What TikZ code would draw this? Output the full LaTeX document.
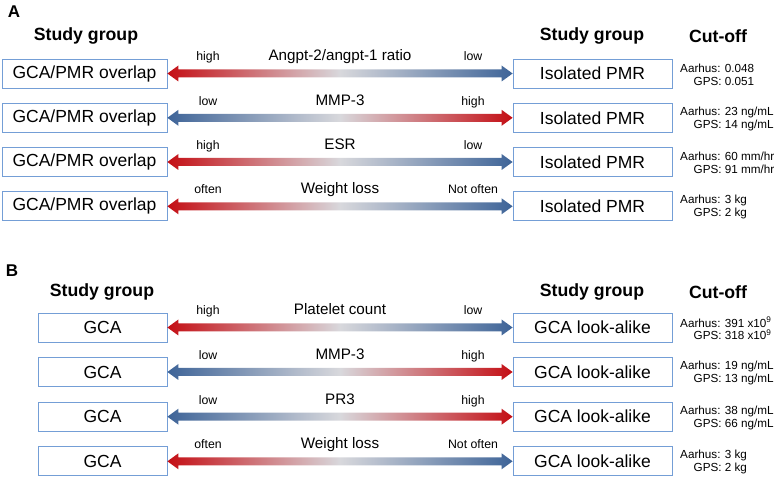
\documentclass[tikz,border=0pt]{standalone}
\usepackage{fontspec}
\setmainfont{Liberation Sans}
\usetikzlibrary{calc}

\definecolor{arrred}{RGB}{196,14,20}
\definecolor{arrblue}{RGB}{62,100,152}
\definecolor{arrgray}{RGB}{216,216,220}
\definecolor{boxblue}{RGB}{116,158,214}

\newcommand{\fsz}[1]{\fontsize{#1}{#1}\selectfont}
% shaded double arrow from the east side of #1 to the west side of #2
\newcommand{\gradarrow}[4]{%
  \shade[left color=#3,right color=#4,middle color=arrgray]
    (#1.east) -- ++(11,-8) -- ++(0,4) -- ($(#2.west)+(-11,-4)$) -- ++(0,-4)
    -- (#2.west) -- ++(-11,8) -- ++(0,-4) -- ($(#1.east)+(11,4)$) -- ++(0,4) -- cycle;}

\begin{document}
\begin{tikzpicture}[x=1pt,y=-1pt,
    grp/.style={draw=boxblue,line width=0.8pt,minimum height=29pt,inner sep=0pt,font=\fsz{17.5}},
    heading/.style={font=\bfseries\fsz{17.7}},
    side/.style={anchor=base,inner sep=0pt,font=\fsz{12.3}},
    marker/.style={anchor=base,inner sep=0pt,font=\fsz{15.2}},
    cutoff/.style={anchor=west,align=right,inner sep=0pt,font=\fontsize{11.7}{12.8}\selectfont}]
    \useasboundingbox (0,0) rectangle (777,478);

    % panel A
    \node[font=\bfseries\fsz{17}] (pa) at (14,12) {A};
    \node[heading] (hla) at (86,36) {Study group};
    \node[heading] (hra) at (592,36) {Study group};
    \node[heading] (hca) at (718,36) {Cut-off};

    \foreach \n/\y/\lc/\rc/\lt/\mt/\rt/\ca/\cb in {
        1/73.5/arrred/arrblue/high/{Angpt-2/angpt-1 ratio}/low/0.048/0.051,
        2/117.8/arrblue/arrred/low/MMP-3/high/{23 ng/mL}/{14 ng/mL},
        3/162/arrred/arrblue/high/ESR/low/{60 mm/hr}/{91 mm/hr},
        4/206.3/arrred/arrblue/often/Weight loss/Not often/3 kg/2 kg
      } {
        \node[grp,minimum width=165pt] (la\n) at (84.5,\y) {GCA/PMR overlap};
        \node[grp,minimum width=159pt] (ra\n) at (592.5,\y) {Isolated PMR};
        \gradarrow{la\n}{ra\n}{\lc}{\rc}
        \node[side] (sla\n) at (208,\y-12.5) {\lt};
        \node[marker] (ma\n) at (340,\y-12.5) {\mt};
        \node[side] (sra\n) at (473,\y-12.5) {\rt};
        \node[cutoff] (ca\n) at (680,\y+1) {Aarhus: \ca\\GPS: \cb};
      }

    % panel B
    \node[font=\bfseries\fsz{17}] (pb) at (12,271) {B};
    \node[heading] (hlb) at (102,292) {Study group};
    \node[heading] (hrb) at (592,292) {Study group};
    \node[heading] (hcb) at (718,292) {Cut-off};

    \foreach \n/\y/\lc/\rc/\lt/\mt/\rt/\ca/\cb in {
        1/327.5/arrred/arrblue/high/Platelet count/low/{391 x10\textsuperscript{9}}/{318 x10\textsuperscript{9}},
        2/372/arrblue/arrred/low/MMP-3/high/{19 ng/mL}/{13 ng/mL},
        3/416.7/arrblue/arrred/low/PR3/high/{38 ng/mL}/{66 ng/mL},
        4/461.3/arrred/arrblue/often/Weight loss/Not often/3 kg/2 kg
      } {
        \node[grp,minimum width=129pt] (lb\n) at (102.5,\y) {GCA};
        \node[grp,minimum width=159pt] (rb\n) at (592.5,\y) {GCA look-alike};
        \gradarrow{lb\n}{rb\n}{\lc}{\rc}
        \node[side] (slb\n) at (208,\y-12.5) {\lt};
        \node[marker] (mb\n) at (340,\y-12.5) {\mt};
        \node[side] (srb\n) at (473,\y-12.5) {\rt};
        \node[cutoff] (cb\n) at (680,\y+1) {Aarhus: \ca\\GPS: \cb};
      }
  \end{tikzpicture}
\end{document}
